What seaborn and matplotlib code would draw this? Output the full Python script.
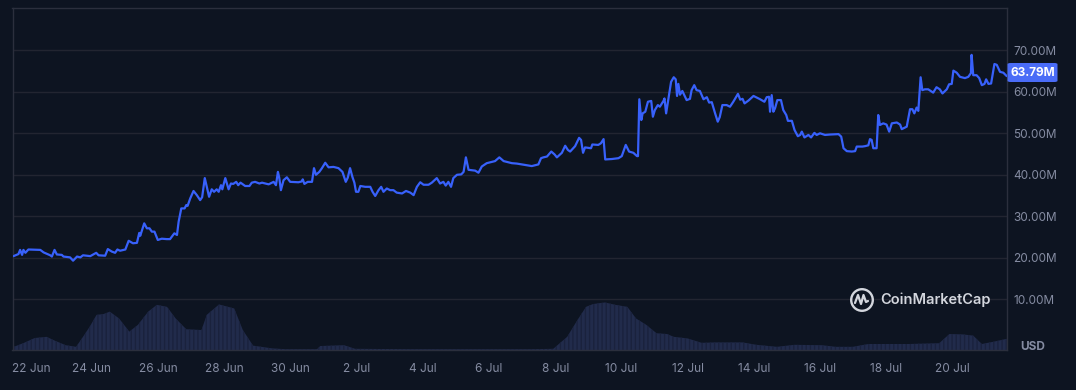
import numpy as np
import pandas as pd
import matplotlib
matplotlib.use("Agg")
import matplotlib.pyplot as plt
import matplotlib.transforms as mtransforms
from matplotlib.patches import FancyBboxPatch, Circle
import seaborn as sns

# Price in millions USD, x = days after 22 Jun 00:00
price_day = [
    -0.37, -0.22, -0.17, -0.11, -0.07, -0.01, 0.08, 0.44, 0.54, 0.74, 0.79, 0.87, 0.94,
    1.09, 1.14, 1.34, 1.43, 1.55, 1.65, 1.73, 1.95, 2.13, 2.20, 2.40, 2.48, 2.60, 2.70,
    2.77, 2.85, 3.01, 3.11, 3.24, 3.36, 3.43, 3.46, 3.58, 3.66, 3.74, 3.81, 3.89, 3.99,
    4.11, 4.26, 4.36, 4.49, 4.57, 4.62, 4.70, 4.80, 4.85, 4.89, 4.97, 5.07, 5.17, 5.27,
    5.33, 5.41, 5.47, 5.54, 5.62, 5.69, 5.77, 5.83, 5.90, 5.94, 6.03, 6.13, 6.20, 6.27,
    6.36, 6.42, 6.49, 6.63, 6.76, 6.83, 6.93, 7.06, 7.14, 7.34, 7.49, 7.56, 7.62, 7.66,
    7.71, 7.79, 7.89, 7.99, 8.24, 8.34, 8.37, 8.42, 8.52, 8.65, 8.71, 8.77, 8.87, 8.95,
    9.05, 9.15, 9.30, 9.45, 9.57, 9.67, 9.73, 9.80, 9.87, 9.93, 9.98, 10.05, 10.11, 10.26,
    10.41, 10.48, 10.56, 10.66, 10.74, 10.81, 10.91, 11.01, 11.11, 11.21, 11.37, 11.49,
    11.62, 11.72, 11.82, 11.92, 12.02, 12.17, 12.27, 12.42, 12.52, 12.62, 12.69, 12.77,
    12.85, 12.92, 13.03, 13.16, 13.23, 13.30, 13.38, 13.58, 13.68, 13.78, 13.93, 14.08,
    14.18, 14.31, 14.44, 14.49, 14.69, 14.84, 14.99, 15.29, 15.49, 15.57, 15.64, 15.75,
    15.88, 15.98, 16.05, 16.20, 16.30, 16.38, 16.45, 16.60, 16.72, 16.78, 16.84, 16.90,
    17.08, 17.12, 17.30, 17.38, 17.46, 17.51, 17.71, 17.91, 18.01, 18.13, 18.23, 18.36,
    18.47, 18.50, 18.54, 18.60, 18.64, 18.72, 18.80, 18.90, 18.95, 19.01, 19.10, 19.16,
    19.27, 19.30, 19.35, 19.42, 19.50, 19.58, 19.64, 19.68, 19.72, 19.77, 19.84, 19.97,
    20.07, 20.12, 20.20, 20.27, 20.37, 20.48, 20.58, 20.65, 20.73, 20.83, 20.91, 20.97,
    21.05, 21.18, 21.28, 21.38, 21.52, 21.59, 21.66, 21.72, 21.84, 21.99, 22.19, 22.32,
    22.39, 22.46, 22.49, 22.54, 22.59, 22.64, 22.71, 22.82, 22.89, 22.98, 23.03, 23.15,
    23.23, 23.33, 23.40, 23.45, 23.53, 23.65, 23.73, 23.83, 23.90, 24.00, 24.15, 24.30,
    24.56, 24.64, 24.71, 24.81, 24.96, 25.06, 25.11, 25.28, 25.36, 25.46, 25.51, 25.56,
    25.61, 25.71, 25.76, 25.81, 25.91, 26.01, 26.09, 26.17, 26.32, 26.42, 26.47, 26.62,
    26.72, 26.79, 26.85, 26.92, 26.97, 27.04, 27.09, 27.17, 27.27, 27.42, 27.52, 27.62,
    27.70, 27.83, 27.90, 27.98, 28.03, 28.13, 28.23, 28.38, 28.48, 28.56, 28.58, 28.63,
    28.73, 28.81, 28.89, 28.97, 29.02, 29.09, 29.17, 29.27, 29.34, 29.44, 29.54, 29.64,
]
price_musd = [
    20.4, 20.9, 21.9, 20.7, 21.9, 21.2, 22.0, 21.9, 21.3, 20.6, 20.3, 21.9, 20.8,
    20.7, 20.3, 20.1, 19.3, 20.3, 20.1, 20.6, 20.4, 21.2, 20.6, 20.5, 22.1, 21.5, 21.2,
    22.0, 21.7, 22.0, 24.1, 23.5, 23.6, 26.0, 25.3, 28.3, 27.1, 27.1, 26.3, 26.3, 24.3,
    24.6, 24.5, 24.5, 25.9, 25.5, 28.7, 31.9, 31.9, 32.7, 32.5, 34.3, 36.1, 35.1, 33.9,
    34.6, 39.2, 37.1, 34.7, 36.5, 35.9, 36.5, 35.9, 37.5, 36.5, 39.2, 36.5, 37.9, 37.8,
    38.3, 37.5, 38.1, 37.3, 37.3, 38.1, 38.3, 37.9, 38.1, 37.7, 38.3, 37.5, 40.7, 39.3,
    36.3, 38.7, 39.4, 38.3, 38.2, 38.4, 38.9, 37.8, 38.3, 38.3, 41.6, 40.0, 40.7, 41.6,
    42.9, 41.8, 41.9, 41.6, 40.7, 38.3, 39.3, 41.6, 39.5, 38.1, 35.9, 35.9, 37.3, 37.1,
    37.1, 35.9, 34.9, 36.3, 37.1, 35.9, 36.7, 36.3, 36.3, 35.7, 35.5, 36.1,
    35.7, 35.1, 37.1, 38.2, 37.6, 37.6, 38.1, 39.2, 37.9, 38.3, 37.4, 38.3,
    37.1, 39.2, 40.0, 40.1, 40.7, 44.2, 41.2, 41.0, 40.5, 42.0, 42.8, 43.1,
    43.3, 44.2, 43.3, 43.2, 42.8, 42.7, 42.5, 42.1, 42.5, 44.0, 44.2, 44.4,
    45.6, 44.9, 44.2, 45.3, 47.0, 46.0, 45.6, 46.9, 48.9, 48.4, 45.3, 46.6,
    46.4, 47.3, 47.2, 47.6, 48.6, 43.7, 43.8, 44.0, 44.5, 47.2, 45.6, 45.3,
    44.5, 44.5, 58.2, 53.2, 54.8, 55.2, 57.6, 57.8, 54.0, 55.6, 56.8, 56.4,
    57.8, 58.4, 54.8, 58.4, 62.4, 63.5, 63.0, 59.0, 61.9, 59.3, 60.2, 58.0,
    58.3, 60.4, 61.6, 60.4, 60.2, 58.2, 58.7, 57.4, 57.5, 54.8, 52.8, 53.9,
    56.8, 56.8, 56.4, 57.6, 59.5, 58.1, 58.3, 57.2, 57.9, 59.0, 58.2, 57.6,
    58.7, 58.8, 55.2, 59.2, 55.2, 56.0, 58.0, 58.0, 55.6, 54.4, 53.0, 53.0,
    50.8, 49.3, 49.6, 50.4, 49.0, 49.6, 49.0, 50.1, 49.6, 50.0, 49.6, 49.7,
    49.8, 49.2, 46.4, 45.7, 45.6, 45.7, 46.8, 46.8, 46.9, 47.1, 48.6, 48.4,
    46.4, 46.4, 54.4, 52.0, 52.4, 52.1, 50.4, 52.4, 52.6, 52.1, 51.0, 51.6,
    55.8, 55.8, 54.8, 56.2, 55.4, 63.5, 60.4, 60.6, 60.6, 59.8, 61.1, 60.6,
    59.6, 60.6, 61.8, 61.9, 65.1, 64.6, 63.6, 63.3, 63.6, 64.5, 68.9, 64.0,
    64.0, 63.3, 61.6, 61.9, 63.0, 61.9, 62.0, 66.7, 66.5, 64.8, 64.6, 63.79,
]

# Volume (millions USD, own axis)
vol_day = [
    -0.39, -0.05, 0.27, 0.63, 0.89, 1.21, 1.52, 1.73, 1.93, 2.14, 2.35, 2.54, 2.82, 3.13,
    3.39, 3.70, 3.96, 4.27, 4.53, 4.85, 5.31, 5.47, 5.84, 6.30, 6.56, 6.87, 7.45, 7.86,
    8.80, 8.90, 9.62, 9.95, 11.71, 12.34, 15.24, 15.94, 16.36, 16.67, 16.93, 17.14, 17.50,
    17.82, 18.18, 18.44, 18.75, 19.06, 19.38, 19.58, 20.00, 20.42, 20.83, 21.66, 22.08,
    22.70, 23.23, 24.06, 24.47, 24.99, 25.46, 26.66, 27.60, 27.91, 28.32, 28.63, 28.89,
    29.26, 29.64,
]
vol_musd = [
    0.7, 1.8, 3.0, 3.3, 2.3, 1.2, 0.8, 3.3, 5.8, 8.8, 9.0, 9.6, 7.9, 4.6,
    6.3, 9.6, 11.3, 10.8, 7.9, 5.2, 5.0, 8.8, 11.4, 10.4, 5.0, 1.1, 0.4, 0.2,
    0.2, 1.0, 1.2, 0.3, 0.2, 0.2, 0.2, 0.3, 3.3, 7.5, 10.8, 11.5, 11.9,
    11.3, 10.8, 7.9, 6.3, 4.2, 4.0, 3.3, 2.9, 1.8, 1.9, 1.9, 1.3,
    0.8, 1.3, 1.2, 0.8, 0.8, 1.5, 1.5, 1.7, 4.0, 3.9, 3.6, 1.5,
    2.1, 2.8,
]

tick_days = [0, 2, 4, 6, 8, 10, 12, 14, 16, 18, 20, 22, 24, 26, 28]
tick_labels = ['22 Jun', '24 Jun', '26 Jun', '28 Jun', '30 Jun', '2 Jul', '4 Jul', '6 Jul',
               '8 Jul', '10 Jul', '12 Jul', '14 Jul', '16 Jul', '18 Jul', '20 Jul']
y_ticks = [10, 20, 30, 40, 50, 60, 70]
last_price = 63.79

bg = '#0d1421'
grid_c = '#222531'
label_c = '#858ca2'
line_c = '#3861fb'
mark_c = '#d3d6dd'

sns.set_style('dark', {'axes.facecolor': bg, 'figure.facecolor': bg})
plt.rcParams['font.family'] = ['Inter', 'DejaVu Sans']
plt.rcParams['hatch.linewidth'] = 1.0

fig = plt.figure(figsize=(10.76, 3.90), dpi=100)
fig.patch.set_facecolor(bg)
ax = fig.add_axes([12.5 / 1076, 1 - 350 / 390, (1007 - 12.5) / 1076, (350 - 8.3) / 390])
ax.set_facecolor(bg)

# volume on its own axis at the bottom
vax = ax.twinx()
vax.fill_between(vol_day, 0, vol_musd, facecolor='#212b4b', edgecolor='#1a223d',
                 hatch='||||', linewidth=0, zorder=1)
vax.set_ylim(0, 85.5)
vax.set_yticks([])
for s in vax.spines.values():
    s.set_visible(False)

ax.set_zorder(vax.get_zorder() + 1)
ax.patch.set_visible(False)

df = pd.DataFrame({'day': price_day, 'price': price_musd})
sns.lineplot(data=df, x='day', y='price', ax=ax, color=line_c, linewidth=1.6, zorder=3)

ax.set_xlim(-0.4, 29.65)
ax.set_ylim(-2.22, 80.12)
ax.set_yticks(y_ticks)
ax.set_yticklabels([f'{v:.2f}M' for v in y_ticks])
ax.yaxis.tick_right()
ax.yaxis.grid(True, color=grid_c, linewidth=1)
ax.xaxis.grid(False)
ax.set_xticks(tick_days)
ax.set_xticklabels(tick_labels)
ax.tick_params(axis='both', length=0, colors=label_c, labelsize=8.5)
ax.tick_params(axis='y', pad=4.5)
ax.tick_params(axis='x', pad=9)
ax.set_xlabel('')
ax.set_ylabel('')
for s in ax.spines.values():
    s.set_visible(True)
    s.set_color('#2b2f3d')
    s.set_linewidth(1)

# first date label sits just inside the plot edge
first = ax.get_xticklabels()[0]
first.set_transform(first.get_transform() + mtransforms.ScaledTranslation(5.5 / 100, 0, fig.dpi_scale_trans))

# USD label
ax.text(1.0 + 13 / 994.5, 0.01, 'USD', transform=ax.transAxes, color=label_c,
        fontsize=8.5, fontweight='bold', ha='left', va='center')

# current price badge
bx0, by0 = 1007.5 / 1076, 1 - 82 / 390
badge = FancyBboxPatch((bx0, by0), 50 / 1076, 19 / 390, boxstyle='round,pad=0,rounding_size=0.003',
                       transform=fig.transFigure, facecolor='#4a6cf7', edgecolor='none', zorder=5)
fig.patches.append(badge)
fig.text(bx0 + 25 / 1076, by0 + 9.5 / 390, f'{last_price:.2f}M', color='white', fontsize=8.5,
         fontweight='bold', ha='center', va='center', zorder=6)

# watermark logo (drawn in inches so the ring stays round)
cx, cy = 8.62, 0.90
fig.patches.append(Circle((cx, cy), 0.108, transform=fig.dpi_scale_trans,
                          fill=False, edgecolor=mark_c, linewidth=1.7))
fig.lines.append(plt.Line2D([cx - 0.07, cx - 0.04, cx - 0.01, cx + 0.015, cx + 0.04, cx + 0.06],
                            [cy - 0.03, cy + 0.05, cy - 0.04, cy + 0.05, cy - 0.02, cy - 0.01],
                            transform=fig.dpi_scale_trans, color=mark_c, linewidth=1.6))
fig.text(880 / 1076, 1 - 300 / 390, 'CoinMarketCap', color=mark_c, fontsize=10.5,
         fontweight='semibold', ha='left', va='center')

fig.savefig('out.png', dpi=100, facecolor=bg)
